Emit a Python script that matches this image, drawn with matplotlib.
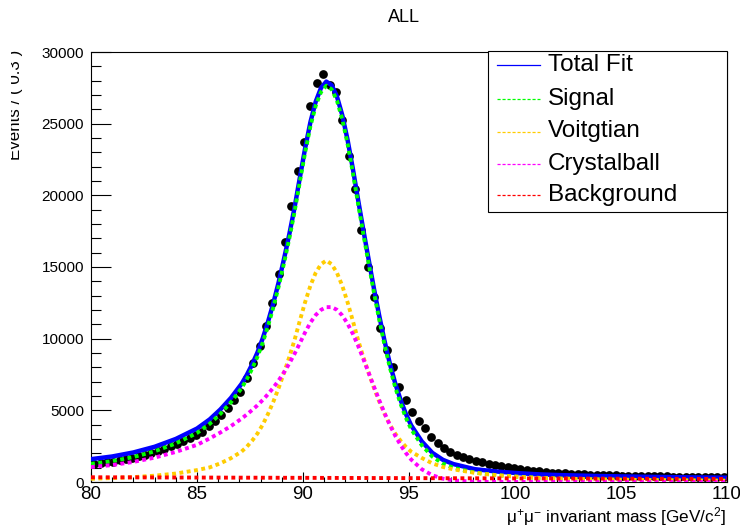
import matplotlib
matplotlib.use("Agg")
import matplotlib.pyplot as plt
from matplotlib.lines import Line2D
from matplotlib.patches import Rectangle
from matplotlib.ticker import MultipleLocator
from matplotlib.transforms import Bbox, TransformedBbox
import numpy as np

plt.rcParams['font.family'] = ['Liberation Sans', 'DejaVu Sans']
plt.rcParams['mathtext.fontset'] = 'custom'
plt.rcParams['mathtext.rm'] = 'Liberation Sans'
plt.rcParams['mathtext.it'] = 'Liberation Sans:italic'

# ---- data: binned events (bin width 0.3 GeV, 80-110) ----
bin_lo = 80.0
bin_width = 0.3
counts = [1260, 1310, 1370, 1430, 1520, 1610, 1690, 1800, 1910, 2030,
          2170, 2330, 2500, 2670, 2870, 3070, 3280, 3500, 3880, 4270,
          4700, 5170, 5700, 6300, 7250, 8300, 9500, 10900, 12500, 14480,
          16760, 19250, 21710, 23690, 26240, 27850, 28500, 27700, 27220, 25240,
          22750, 20410, 17570, 15010, 12880, 10720, 9200, 8000, 6650, 5720,
          4900, 4270, 3740, 3160, 2700, 2350, 2080, 1900, 1760, 1620,
          1490, 1380, 1270, 1180, 1100, 1020, 950, 890, 840, 790,
          740, 700, 660, 630, 600, 575, 555, 535, 515, 500,
          485, 470, 460, 450, 440, 430, 420, 410, 400, 395,
          385, 380, 372, 365, 360, 352, 348, 340, 335, 330]

# ---- fit curves sampled along the mass axis ----
curve_x = [80, 81, 82, 83, 84, 85, 85.6, 86.1, 86.6, 87.1,
           87.35, 87.6, 87.85, 88.1, 88.35, 88.6, 88.85, 89.1, 89.35, 89.6,
           89.85, 90.1, 90.35, 90.6, 90.85, 91.1, 91.35, 91.6, 91.85, 92.1,
           92.35, 92.6, 92.85, 93.1, 93.35, 93.6, 93.85, 94.1, 94.35, 94.6,
           94.85, 95.1, 95.6, 96.1, 96.6, 97.1, 98.1, 99.1, 100.1, 101.1,
           102.1, 104, 106, 108, 110]
total_fit = [1595, 1781, 2062, 2458, 3004, 3730, 4368, 5056, 5864, 6842,
             7471, 8200, 9029, 10018, 11177, 12476, 13925, 15534, 17253, 19132,
             21221, 23280, 25109, 26538, 27497, 27936, 27685, 26899, 25608, 23887,
             21871, 19680, 17549, 15488, 13467, 11566, 9815, 8244, 6883, 5737,
             4761, 3960, 2838, 2036, 1546, 1249, 896, 736, 620, 536,
             482, 414, 366, 328, 300]
signal = [1265, 1455, 1740, 2140, 2690, 3420, 4060, 4750, 5560, 6540,
          7170, 7900, 8730, 9720, 10880, 12180, 13630, 15240, 16960, 18840,
          20930, 22990, 24820, 26250, 27210, 27650, 27400, 26615, 25325, 23605,
          21590, 19400, 17270, 15210, 13190, 11290, 9540, 7970, 6610, 5465,
          4490, 3690, 2570, 1770, 1282, 987, 658, 482, 370, 290,
          240, 180, 140, 110, 90]
voigtian = [225, 275, 340, 440, 590, 830, 1020, 1300, 1660, 2120,
            2460, 2880, 3380, 4000, 4750, 5600, 6550, 7600, 8700, 9900,
            11250, 12550, 13700, 14600, 15200, 15450, 15200, 14600, 13700, 12550,
            11250, 9900, 8700, 7600, 6550, 5600, 4750, 4000, 3380, 2880,
            2460, 2120, 1680, 1300, 1050, 880, 640, 480, 370, 290,
            240, 180, 140, 110, 90]
crystalball = [1040, 1180, 1400, 1700, 2100, 2590, 3040, 3450, 3900, 4420,
               4710, 5020, 5350, 5720, 6130, 6580, 7080, 7640, 8260, 8940,
               9680, 10440, 11120, 11650, 12010, 12200, 12200, 12015, 11625, 11055,
               10340, 9500, 8570, 7610, 6640, 5690, 4790, 3970, 3230, 2585,
               2030, 1570, 890, 470, 232, 107, 18, 2, 0, 0,
               0, 0, 0, 0, 0]
background = [330, 326, 322, 318, 314, 310, 308, 306, 304, 302,
              301, 300, 299, 298, 297, 296, 295, 294, 293, 292,
              291, 290, 289, 288, 287, 286, 285, 284, 283, 282,
              281, 280, 279, 278, 277, 276, 275, 274, 273, 272,
              271, 270, 268, 266, 264, 262, 258, 254, 250, 246,
              242, 234, 226, 218, 210]

legend_labels = ["Total Fit", "Signal", "Voitgtian", "Crystalball", "Background"]
legend_colors = ["#0000ff", "#00ff00", "#ffcc00", "#ff00ff", "#ff0000"]

W, H = 740, 527
fig = plt.figure(figsize=(W / 100, H / 100), dpi=100)
ax_l, ax_r, ax_t, ax_b = 91, 727, 52, 482
ax = fig.add_axes([ax_l / W, 1 - ax_b / H, (ax_r - ax_l) / W, (ax_b - ax_t) / H])

centers = bin_lo + bin_width * (np.arange(len(counts)) + 0.5)
ax.plot(centers, counts, 'o', color='black', ms=6.3, mew=0, zorder=2)

dash = (0, (1.0, 0.9))
ax.plot(curve_x, total_fit, '-', color=legend_colors[0], lw=3.2, zorder=3)
ax.plot(curve_x, signal, linestyle=dash, color=legend_colors[1], lw=2.8, zorder=4)
ax.plot(curve_x, voigtian, linestyle=dash, color=legend_colors[2], lw=2.8, zorder=4)
ax.plot(curve_x, crystalball, linestyle=dash, color=legend_colors[3], lw=2.8, zorder=4)
ax.plot(curve_x, background, linestyle=dash, color=legend_colors[4], lw=2.8, zorder=4)

ax.set_xlim(80, 110)
ax.set_ylim(0, 30000)
ax.xaxis.set_major_locator(MultipleLocator(5))
ax.xaxis.set_minor_locator(MultipleLocator(1))
ax.yaxis.set_major_locator(MultipleLocator(5000))
ax.yaxis.set_minor_locator(MultipleLocator(1000))
ax.tick_params(axis='x', which='major', direction='in', length=7.2, width=0.8,
               labelsize=13.5, pad=3, top=False)
ax.tick_params(axis='x', which='minor', direction='in', length=3.6, width=0.8, top=False)
ax.tick_params(axis='y', which='major', direction='in', length=14.4, width=0.8,
               labelsize=11, pad=5, right=False)
ax.tick_params(axis='y', which='minor', direction='in', length=7.2, width=0.8, right=False)
for s in ax.spines.values():
    s.set_linewidth(0.8)

fig.text(404 / W, 1 - 18 / H, "ALL", ha='center', va='center', fontsize=13)
fig.text(726 / W, 1 - 517 / H, r"μ$^{+}$μ$^{-}$ invariant mass [GeV/c$^{2}$]",
         ha='right', va='center', fontsize=12.3)
ylab = fig.text(15.5 / W, 1 - 50 / H, "Events / ( 0.3 )", rotation=90, ha='center',
                va='top', fontsize=12.2)
ylab.set_clip_box(TransformedBbox(Bbox([[11 / W, 0], [1, 1]]), fig.transFigure))
ylab.set_clip_on(True)

# legend box
lx0, lx1, ly0, ly1 = 488, 727, 51, 212
fig.add_artist(Rectangle((lx0 / W, 1 - ly1 / H), (lx1 - lx0) / W, (ly1 - ly0) / H,
                         transform=fig.transFigure, facecolor='white',
                         edgecolor='black', lw=0.8, zorder=5))
rows = [65, 99, 131.5, 164, 195]
for lab, col, ry in zip(legend_labels, legend_colors, rows):
    ls = '-' if lab == "Total Fit" else (0, (2.5, 1.5))
    fig.add_artist(Line2D([497 / W, 540 / W], [1 - ry / H, 1 - ry / H],
                          transform=fig.transFigure, color=col, lw=0.9,
                          linestyle=ls, zorder=6))
    fig.text(548 / W, 1 - ry / H, lab, ha='left', va='center', fontsize=17.5, zorder=6)

fig.savefig("out.png", dpi=100)
